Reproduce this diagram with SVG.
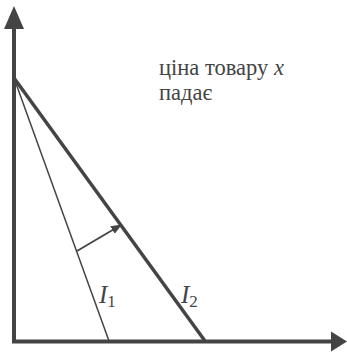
<svg xmlns="http://www.w3.org/2000/svg" width="347" height="352" viewBox="0 0 347 352">
<style>
.ax{stroke:#444;stroke-width:4;fill:none}
.ln{stroke:#444;fill:none}
.t{font-family:"Liberation Serif","Times New Roman",serif;fill:#444}
</style>
<defs>
<marker id="ah" viewBox="0 0 10 10" refX="9" refY="5" markerWidth="11" markerHeight="11" markerUnits="userSpaceOnUse" orient="auto">
<path d="M0,1 L10,5 L0,9 z" fill="#444"/>
</marker>
</defs>
<g id="connectors">
<line class="ax" x1="14" y1="343" x2="14" y2="28"/>
<path d="M14,6 L4,29 L24,29 z" fill="#444"/>
<line class="ax" x1="12" y1="341.5" x2="332" y2="341.5"/>
<path d="M347,341.5 L331,331.5 L331,351.5 z" fill="#444"/>
<line class="ln" stroke-width="1.5" x1="14" y1="78" x2="109" y2="341"/>
<line class="ln" stroke-width="3.5" x1="14" y1="78" x2="205" y2="341"/>
<line class="ln" stroke-width="1.8" x1="77" y1="251" x2="121" y2="225" marker-end="url(#ah)"/>
</g>
<g id="label-price">
<text class="t" font-size="22.5"><tspan x="159" y="75">ціна товару <tspan font-style="italic">x</tspan></tspan><tspan x="159" y="100">падає</tspan></text>
</g>
<g id="label-I1">
<text class="t" x="99" y="303" font-size="25" font-style="italic">I<tspan font-size="17" font-style="normal" dy="4">1</tspan></text>
</g>
<g id="label-I2">
<text class="t" x="181" y="303" font-size="25" font-style="italic">I<tspan font-size="17" font-style="normal" dy="4">2</tspan></text>
</g>
</svg>
